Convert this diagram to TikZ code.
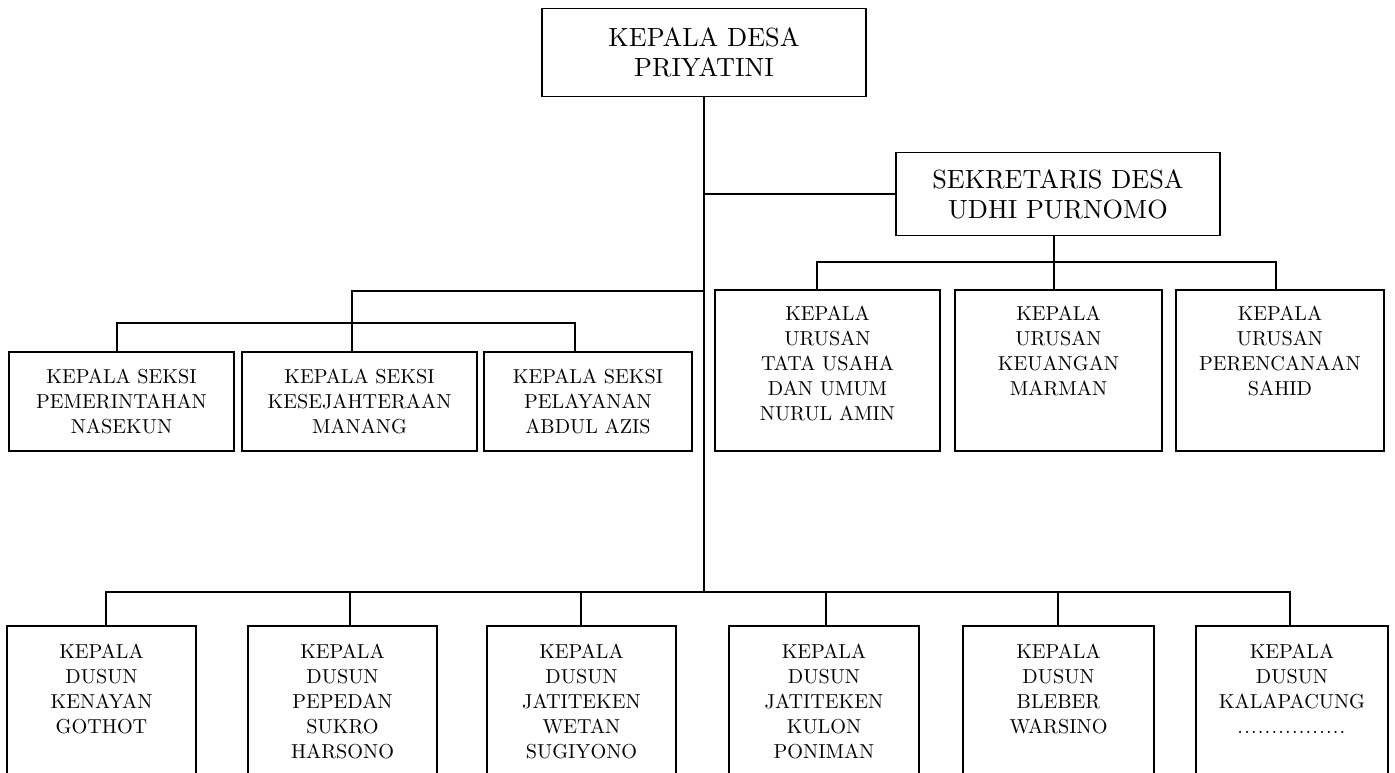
\documentclass[tikz,border=0pt]{standalone}
\usepackage{fontspec}
\setmainfont{lmroman10-regular.otf}
\newcommand\tbox[4]{\parbox[c][#1pt][t]{#2pt}{\centering\rule{0pt}{#3pt}#4}}
\newcommand\dotrow{\foreach \i in {1,...,16}{.\kern1.2pt}}
\begin{document}
\begin{tikzpicture}[x=1pt,y=-1pt,
  box/.style={draw,line width=1.8pt,inner sep=0pt,align=center},
  big/.style={font=\fontsize{26.3}{30}\selectfont},
  small/.style={font=\fontsize{20.2}{25}\selectfont},
  link/.style={line width=1.8pt}]
\useasboundingbox (0,0) rectangle (1395,772);
\clip (0,0) rectangle (1395,772);
\fill[white] (0,0) rectangle (1395,772);

% top
\node[box,big,minimum width=324,minimum height=88] (kades) at (704,52.5) {KEPALA DESA\\PRIYATINI};
\node[box,big,minimum width=324,minimum height=83] (sekdes) at (1058,194) {SEKRETARIS DESA\\UDHI PURNOMO};

% seksi
\node[box,small,minimum width=225,minimum height=99] (ks1) at (121.5,401.5) {KEPALA SEKSI\\PEMERINTAHAN\\NASEKUN};
\node[box,small,minimum width=235,minimum height=99] (ks2) at (359.5,401.5) {KEPALA SEKSI\\KESEJAHTERAAN\\MANANG};
\node[box,small,minimum width=208,minimum height=99] (ks3) at (588,401.5) {KEPALA SEKSI\\PELAYANAN\\ABDUL AZIS};

% urusan
\node[box,small,minimum width=225,minimum height=161] (u1) at (827.5,370.5) {\tbox{161}{221}{30.9}{KEPALA\\URUSAN\\TATA USAHA\\DAN UMUM\\NURUL AMIN}};
\node[box,small,minimum width=207,minimum height=161] (u2) at (1058.5,370.5) {\tbox{161}{203}{30.9}{KEPALA\\URUSAN\\KEUANGAN\\MARMAN}};
\node[box,small,minimum width=208,minimum height=161] (u3) at (1280,370.5) {\tbox{161}{204}{30.9}{KEPALA\\URUSAN\\PERENCANAAN\\SAHID}};

% dusun
\node[box,small,minimum width=189,minimum height=174] (d1) at (101.5,713) {\tbox{174}{185}{32.9}{KEPALA\\DUSUN\\KENAYAN\\GOTHOT}};
\node[box,small,minimum width=189,minimum height=174] (d2) at (342.5,713) {\tbox{174}{185}{32.9}{KEPALA\\DUSUN\\PEPEDAN\\SUKRO\\HARSONO}};
\node[box,small,minimum width=189,minimum height=174] (d3) at (581.5,713) {\tbox{174}{185}{32.9}{KEPALA\\DUSUN\\JATITEKEN\\WETAN\\SUGIYONO}};
\node[box,small,minimum width=190,minimum height=174] (d4) at (824,713) {\tbox{174}{186}{32.9}{KEPALA\\DUSUN\\JATITEKEN\\KULON\\PONIMAN}};
\node[box,small,minimum width=191,minimum height=174] (d5) at (1058.5,713) {\tbox{174}{187}{32.9}{KEPALA\\DUSUN\\BLEBER\\WARSINO}};
\node[box,small,minimum width=192,minimum height=174] (d6) at (1292,713) {\tbox{174}{188}{32.9}{KEPALA\\DUSUN\\KALAPACUNG\\\dotrow}};

% junction coordinates
\coordinate (ydus) at (0,592);
\coordinate (sx) at (352,291);
\coordinate (sb1) at (117,323);
\coordinate (sb3) at (575,323);
\coordinate (ub1) at (817,262);
\coordinate (ub2) at (1054,262);
\coordinate (ub3) at (1276,262);
\coordinate (db1) at (106,592);
\coordinate (db2) at (350,592);
\coordinate (db3) at (581,592);
\coordinate (db4) at (826,592);
\coordinate (db5) at (1058,592);
\coordinate (db6) at (1290,592);

% connectors
\draw[link] (kades.south) -- (kades.south |- ydus);
\draw[link] (kades.south |- sekdes.west) -- (sekdes.west);
\draw[link] (kades.south |- sx) -- (sx) -- (sx |- ks2.north);
\draw[link] (sb1 |- ks1.north) -- (sb1) -- (sb3) -- (sb3 |- ks3.north);
\draw[link] (ub2 |- sekdes.south) -- (ub2) -- (ub2 |- u2.north);
\draw[link] (ub1 |- u1.north) -- (ub1) -- (ub3) -- (ub3 |- u3.north);
\draw[link] (db1 |- d1.north) -- (db1) -- (db6) -- (db6 |- d6.north);
\draw[link] (db2) -- (db2 |- d2.north);
\draw[link] (db3) -- (db3 |- d3.north);
\draw[link] (db4) -- (db4 |- d4.north);
\draw[link] (db5) -- (db5 |- d5.north);
\end{tikzpicture}
\end{document}
